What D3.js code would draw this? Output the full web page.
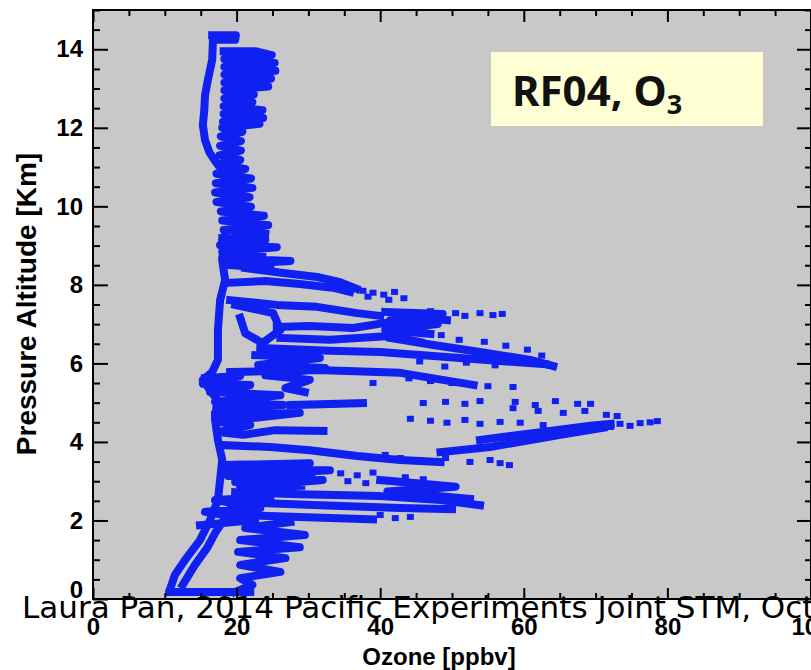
<!DOCTYPE html>
<html><head><meta charset="utf-8">
<script src="https://cdn.jsdelivr.net/npm/d3@7"></script>
<style>html,body{margin:0;padding:0;background:#fff;} svg{display:block;}</style>
</head><body>
<svg id="c" width="811" height="670"></svg>
<script>
// ---------- text / ticks ----------
const xTicks = [0, 20, 40, 60, 80, 100];
const yTicks = [0, 2, 4, 6, 8, 10, 12, 14];
const xTitle = "Ozone [ppbv]";
const yTitle = "Pressure Altitude [Km]";
const flightLabel = "RF04, O";
const flightSub = "3";
const caption = "Laura Pan, 2014 Pacific Experiments Joint STM, Oct";

// ---------- data: [ozone ppbv, altitude km] ----------
const topCap = [[16.6,14.36],[19.9,14.36],[19.8,14.24],[17.0,14.24]];
const leftThin = [[16.7,14.2],[16.6,13.73],[16.0,13.22],[15.6,12.83],[15.5,12.45],[15.3,12.07],[15.6,11.69],[16.2,11.38],[17.1,11.13],[18.0,10.92]];
const upperColumn = [[18.2,13.95],[22.6,13.95],[24.9,13.85],[18.3,13.75],[25.3,13.65],[18.3,13.55],[25.4,13.45],[18.3,13.35],[24.8,13.25],[18.3,13.15],[24.4,13.05],[18.3,12.95],[22.4,12.85],[18.3,12.75],[22.2,12.65],[18.2,12.55],[23.6,12.45],[18.2,12.35],[23.7,12.25],[18.1,12.15],[23.2,12.1],[18.0,12.0],[20.8,11.9],[17.8,11.78],[20.6,11.66],[17.7,11.54],[20.6,11.42],[17.6,11.3],[20.5,11.18],[17.5,11.06],[21.2,10.95],[17.2,10.83],[22.0,10.71],[17.1,10.59],[22.2,10.47],[17.0,10.35],[21.8,10.23],[17.2,10.11],[22.0,9.99],[17.8,9.87],[23.8,9.76],[18.0,9.64],[24.4,9.52],[18.2,9.4],[24.0,9.3]];
const column9km = [[18.0,9.19],[24.0,9.14],[17.7,9.01],[25.6,8.96],[18.0,8.84],[23.6,8.76],[18.0,8.68],[27.5,8.61],[18.4,8.51],[24.7,8.43]];
const trunk = [[18.4,9.27],[18.0,8.63],[18.4,8.12],[17.7,7.61],[17.4,6.85],[17.4,6.09],[16.6,5.78],[15.3,5.58],[16.3,5.32],[17.3,5.07],[17.0,4.56],[17.4,4.05],[18.0,3.54],[17.7,3.03],[17.4,2.52],[16.3,2.01],[14.9,1.50],[12.8,0.99],[11.4,0.61],[10.7,0.23]];
const bottomLeg = [[10.7,0.18],[21.9,0.18]];
const lowerBlob = [[19.8,0.18],[22.2,0.36],[20.5,0.53],[26.1,0.69],[20.5,0.87],[26.8,1.04],[20.2,1.20],[28.8,1.32],[20.5,1.50],[29.5,1.63],[21.2,1.81],[27.5,1.96]];
const innerDiagonal = [[12.5,0.36],[14.2,0.87],[15.9,1.30],[17.0,1.68],[18.4,2.06],[19.4,2.39]];
const lowBand2km = [[14.9,1.88],[22.6,2.01],[15.6,2.22],[23.3,2.32],[17.0,2.52],[24.7,2.60]];
const tongue8a = [[21.2,8.43],[26.5,8.30],[31.2,8.20],[34.4,8.07],[36.7,7.90]];
const tongue8b = [[18.5,8.05],[24.0,8.10],[28.8,8.02],[33.7,7.92],[35.8,7.82]];
const band74 = [[19.1,7.61],[25.6,7.49],[31.2,7.44],[36.8,7.28],[40.0,7.21]];
const loop7 = [[19.8,7.49],[25.1,7.28],[26.1,6.85],[23.6,6.52],[21.2,6.77],[20.5,7.16]];
const band69 = [[25.6,6.93],[30.2,6.95],[36.2,6.90],[41.4,7.05],[45.6,7.16],[49.3,7.10]];
const cluster7 = [[40.7,7.31],[48.7,7.26],[41.4,7.10],[48.0,7.00],[40.7,6.85],[47.0,6.75]];
const tongue6a = [[41.4,6.65],[47.4,6.47],[53.9,6.29],[60.9,6.09],[64.1,5.93]];
const tongue6b = [[23.3,6.39],[33.0,6.32],[40.0,6.29],[47.4,6.19],[56.7,6.06],[63.0,5.98]];
const tongue6c = [[26.1,6.65],[33.0,6.60],[41.4,6.70],[45.6,6.54]];
const blob6km = [[22.6,6.21],[31.6,6.14],[23.0,5.96],[32.3,5.88],[24.0,5.70],[30.2,5.58],[26.8,5.37],[29.5,5.27]];
const band57 = [[19.1,5.78],[31.2,5.83],[42.8,5.76],[53.0,5.45]];
const leftBump = [[15.6,5.63],[20.5,5.68],[15.3,5.48],[21.9,5.45],[16.3,5.27],[26.1,5.19],[17.0,5.02],[26.5,4.94],[17.4,4.81],[23.3,4.76]];
const blob45 = [[17.0,4.69],[28.8,4.74],[17.4,4.51],[21.9,4.43],[17.4,4.25],[20.9,4.18],[25.4,4.30],[32.1,4.28]];
const band50 = [[27.5,4.94],[37.6,4.99]];
const spikeA = [[48.4,3.74],[55.3,3.87],[60.9,4.05],[65.1,4.18],[71.1,4.36]];
const spikeB = [[53.9,4.05],[62.3,4.25],[69.3,4.41],[72.1,4.46]];
const band39 = [[18.0,3.92],[24.7,3.87],[30.2,3.79],[36.8,3.64],[42.8,3.54],[48.4,3.49]];
const blob3km = [[18.0,3.41],[30.2,3.46],[18.4,3.28],[33.0,3.28],[18.8,3.13],[30.5,3.18],[19.8,2.98],[32.0,3.03],[20.5,2.85],[29.0,2.88]];
const tongue25a = [[19.8,2.72],[28.8,2.67],[40.0,2.62],[48.4,2.52],[53.9,2.39]];
const tongue25b = [[19.1,2.47],[31.6,2.39],[42.8,2.32],[50.0,2.29]];
const tongue25c = [[40.0,3.03],[50.5,2.86],[41.0,2.74],[52.5,2.55]];
const band21 = [[20.5,2.14],[33.0,2.06],[39.0,2.03]];

const tracks = [topCap, leftThin, upperColumn, column9km, trunk, bottomLeg, lowerBlob, innerDiagonal, lowBand2km,
  tongue8a, tongue8b, band74, loop7, band69, cluster7, tongue6a, tongue6b, tongue6c, blob6km, band57, leftBump,
  blob45, band50, spikeA, spikeB, band39, blob3km, tongue25a, tongue25b, tongue25c, band21];

const scatterPts = [
 [37.6,7.85],[39.0,7.80],[40.5,7.75],[42.0,7.82],[43.3,7.66],[41.2,7.62],[38.3,7.70],
 [44.5,7.30],[47.0,7.33],[50.5,7.28],[51.8,7.21],[53.9,7.28],[55.7,7.23],[57.0,7.26],
 [45.0,6.80],[48.5,6.72],[51.0,6.60],[54.5,6.55],[57.5,6.45],[60.5,6.35],[62.5,6.20],[52.0,6.02],[56.0,5.95],[45.5,6.05],[49.0,5.92],
 [44.0,5.62],[47.0,5.55],[50.0,5.50],[55.0,5.42],[58.5,5.40],[39.0,5.50],
 [46.0,4.99],[49.1,5.02],[51.8,4.97],[53.9,5.04],[58.8,5.02],[61.6,4.94],[64.4,5.04],[67.5,4.97],[69.3,4.97],
 [44.2,4.59],[47.0,4.54],[49.3,4.49],[51.8,4.56],[53.9,4.46],[56.7,4.51],[59.5,4.49],[62.7,4.43],
 [58.5,4.86],[62.0,4.79],[65.5,4.74],[68.5,4.79],[71.5,4.69],[73.0,4.66],
 [72.1,4.38],[73.4,4.46],[74.8,4.41],[76.2,4.48],[77.6,4.50],[78.6,4.53],
 [40.7,3.67],[42.8,3.59],[45.6,3.54],[49.1,3.59],[52.5,3.49],[55.3,3.54],[56.7,3.46],[58.0,3.41],
 [34.5,3.20],[36.8,3.15],[39.0,3.22],[35.5,3.00],[38.0,2.95],[43.5,3.10],[46.0,3.05],
 [40.0,2.14],[42.1,2.06],[44.2,2.09]
];

// ---------- drawing ----------
const svg = d3.select("#c");
const L = 93, R = 811, T = 10, B = 599;
const x = d3.scaleLinear().domain([0, 100]).range([L, R]);
const y = d3.scaleLinear().domain([0, 15]).range([B, T]);
const blue = "#1020f0";

svg.append("rect").attr("width", 811).attr("height", 670).attr("fill", "#fff");
svg.append("rect").attr("x", L).attr("y", T).attr("width", R - L).attr("height", B - T).attr("fill", "#c8c8c8");

const plot = svg.append("g");
const line = d3.line().x(d => x(d[0])).y(d => y(d[1]));
plot.selectAll("path.trk").data(tracks).join("path")
  .attr("class", "trk").attr("d", line)
  .attr("fill", "none").attr("stroke", blue).attr("stroke-width", 8)
  .attr("stroke-linejoin", "round").attr("stroke-linecap", "square");
plot.selectAll("rect.pt").data(scatterPts).join("rect")
  .attr("class", "pt")
  .attr("x", d => x(d[0]) - 3.5).attr("y", d => y(d[1]) - 3)
  .attr("width", 7).attr("height", 6).attr("fill", blue);

// annotation box
svg.append("rect").attr("x", 491).attr("y", 52).attr("width", 272).attr("height", 74).attr("fill", "#ffffd4");
const lab = svg.append("text").attr("x", 512).attr("y", 106)
  .attr("font-family", "'Noto Sans', sans-serif").attr("font-weight", "bold").attr("font-size", 42).attr("fill", "#111");
lab.append("tspan").text(flightLabel);
lab.append("tspan").attr("dy", 8).attr("font-size", 27).text(flightSub);

// axes
const minorX = d3.range(0, 101, 5).filter(v => v % 20 !== 0);
const minorY = d3.range(0, 15.01, 0.5).filter(v => v % 2 !== 0);
function styleAxis(g) {
  g.select(".domain").remove();
  g.selectAll(".tick line").attr("stroke", "#000").attr("stroke-width", 2);
  g.selectAll("text").attr("font-family", "'Liberation Sans', Arial, sans-serif")
    .attr("font-weight", "bold").attr("font-size", 24).attr("fill", "#000");
}
const gl = svg.append("g").attr("transform", `translate(${L},0)`)
  .call(d3.axisLeft(y).tickValues(yTicks).tickSize(-15).tickPadding(10).tickFormat(d3.format("d")));
styleAxis(gl);
gl.selectAll(".tick text").filter(d => d === 0).attr("y", -9);
svg.append("g").attr("transform", `translate(${L},0)`)
  .call(d3.axisLeft(y).tickValues(minorY).tickSize(-7).tickFormat("")).call(styleAxis);
svg.append("g").attr("transform", `translate(${R},0)`)
  .call(d3.axisRight(y).tickValues(yTicks).tickSize(-14).tickFormat("")).call(styleAxis);
svg.append("g").attr("transform", `translate(${R},0)`)
  .call(d3.axisRight(y).tickValues(minorY).tickSize(-6).tickFormat("")).call(styleAxis);
const gb = svg.append("g").attr("transform", `translate(0,${B})`)
  .call(d3.axisBottom(x).tickValues(xTicks).tickSize(-11).tickPadding(19).tickFormat(d3.format("d")));
styleAxis(gb);
svg.append("g").attr("transform", `translate(0,${B})`)
  .call(d3.axisBottom(x).tickValues(minorX).tickSize(-6).tickFormat("")).call(styleAxis);
svg.append("g").attr("transform", `translate(0,${T})`)
  .call(d3.axisTop(x).tickValues(xTicks).tickSize(-12).tickFormat("")).call(styleAxis);
svg.append("g").attr("transform", `translate(0,${T})`)
  .call(d3.axisTop(x).tickValues(minorX).tickSize(-6).tickFormat("")).call(styleAxis);

// frame
svg.append("rect").attr("x", L).attr("y", T).attr("width", R - L).attr("height", B - T)
  .attr("fill", "none").attr("stroke", "#000").attr("stroke-width", 2);

// titles
svg.append("text").attr("x", 439).attr("y", 665).attr("text-anchor", "middle")
  .attr("font-family", "'Liberation Sans', Arial, sans-serif").attr("font-weight", "bold").attr("font-size", 24)
  .text(xTitle);
svg.append("text").attr("transform", `translate(36,304) rotate(-90)`).attr("text-anchor", "middle")
  .attr("font-family", "'Liberation Sans', Arial, sans-serif").attr("font-weight", "bold").attr("font-size", 28)
  .text(yTitle);

// caption overlay
svg.append("text").attr("x", 22).attr("y", 618)
  .attr("font-family", "'DejaVu Sans', sans-serif").attr("font-size", 31).attr("fill", "#000")
  .text(caption);
</script>
</body></html>
